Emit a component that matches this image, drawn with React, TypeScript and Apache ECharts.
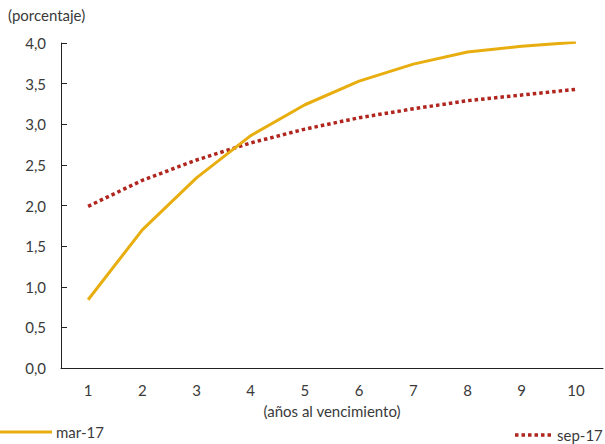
import React, { useEffect, useRef } from "react";
import * as echarts from "echarts";

const categories = ["1", "2", "3", "4", "5", "6", "7", "8", "9", "10"];
const mar17 = [0.84, 1.70, 2.34, 2.86, 3.24, 3.53, 3.74, 3.89, 3.96, 4.01];
const sep17 = [1.99, 2.31, 2.56, 2.77, 2.94, 3.08, 3.19, 3.29, 3.36, 3.43];
const seriesNames = ["mar-17", "sep-17"];

const FONT = "Lato, 'Open Sans', sans-serif";
const TXT = "#3a3a3a";
const YEL = "#E8AE10";
const RED = "#B0261E";

export default function App() {
  const ref = useRef<HTMLDivElement>(null);
  useEffect(() => {
    if (!ref.current) return;
    const chart = echarts.init(ref.current, undefined, { renderer: "svg" });
    chart.setOption({
      animation: false,
      textStyle: { fontFamily: FONT, color: TXT },
      grid: { left: 61, right: 2, top: 43, bottom: 76 },
      legend: { show: false },
      graphic: [
        {
          type: "text",
          left: 8,
          top: 7,
          style: { text: "(porcentaje)", font: `15px ${FONT}`, fill: TXT },
        },
        {
          type: "line",
          shape: { x1: 0, y1: 432, x2: 52, y2: 432 },
          style: { stroke: YEL, lineWidth: 3 },
        },
        {
          type: "text",
          x: 56,
          y: 432,
          style: { text: seriesNames[0], font: `15px ${FONT}`, fill: TXT, textVerticalAlign: "middle" },
        },
        {
          type: "line",
          shape: { x1: 515, y1: 435, x2: 553, y2: 435 },
          style: { stroke: RED, lineWidth: 3.5, lineDash: [3.5, 3] },
        },
        {
          type: "text",
          x: 557,
          y: 435,
          style: { text: seriesNames[1], font: `15px ${FONT}`, fill: TXT, textVerticalAlign: "middle" },
        },
      ],
      xAxis: {
        type: "category",
        data: categories,
        boundaryGap: true,
        name: "(años al vencimiento)",
        nameLocation: "middle",
        nameGap: 35,
        nameTextStyle: { fontSize: 15, color: TXT, fontFamily: FONT },
        axisLine: { lineStyle: { color: "#222", width: 1 } },
        axisTick: { inside: true, length: 6, lineStyle: { color: "#222" } },
        axisLabel: { fontSize: 15, color: TXT, fontFamily: FONT, margin: 14 },
        splitLine: { show: false },
      },
      yAxis: {
        type: "value",
        min: 0,
        max: 4,
        interval: 0.5,
        axisLine: { show: true, lineStyle: { color: "#222", width: 1 } },
        axisTick: { show: true, inside: true, length: 6, lineStyle: { color: "#222" } },
        axisLabel: {
          fontSize: 15,
          color: TXT,
          fontFamily: FONT,
          margin: 15,
          formatter: (v: number) => v.toFixed(1).replace(".", ","),
        },
        splitLine: { show: false },
      },
      series: [
        {
          name: seriesNames[0],
          type: "line",
          data: mar17,
          symbol: "none",
          lineStyle: { color: YEL, width: 3 },
          itemStyle: { color: YEL },
          z: 3,
        },
        {
          name: seriesNames[1],
          type: "line",
          data: sep17,
          symbol: "none",
          lineStyle: { color: RED, width: 3.5, type: [3.5, 3], cap: "butt" },
          itemStyle: { color: RED },
          z: 2,
        },
      ],
    });
    return () => chart.dispose();
  }, []);
  return <div ref={ref} style={{ width: 605, height: 444, position: "absolute", left: 0, top: 0 }} />;
}
